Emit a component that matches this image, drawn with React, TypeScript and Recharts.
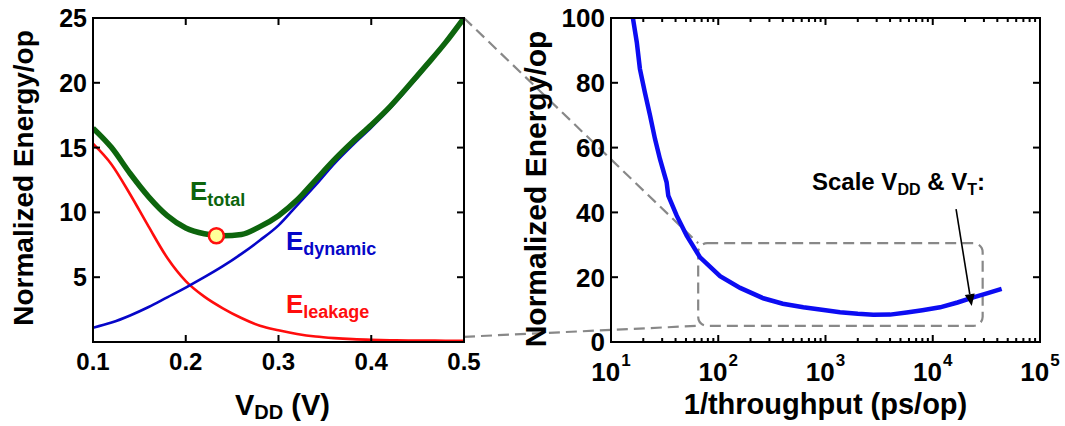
import {
  ComposedChart,
  Line,
  XAxis,
  YAxis,
  ReferenceDot,
  ReferenceArea,
} from 'recharts'

// VDD sweep (V) and normalized energy per operation of each component
const vdd = [0.1, 0.12, 0.14, 0.16, 0.18, 0.2, 0.22, 0.24, 0.26, 0.28, 0.3, 0.32, 0.34, 0.36, 0.38, 0.4, 0.42, 0.44, 0.46, 0.48, 0.5]
const eLeakage = [15.3, 13.7, 11.4, 8.9, 6.5, 4.7, 3.5, 2.6, 1.85, 1.25, 0.9, 0.62, 0.42, 0.3, 0.22, 0.17, 0.14, 0.12, 0.11, 0.1, 0.1]
const eDynamic = [1.1, 1.5, 2.05, 2.7, 3.45, 4.2, 5.0, 5.85, 6.8, 7.85, 9.0, 10.55, 12.1, 13.75, 15.2, 16.55, 18.0, 19.6, 21.3, 23.1, 25.0]
const eTotal = [16.5, 15.0, 13.0, 11.2, 9.75, 8.8, 8.35, 8.2, 8.3, 8.9, 9.75, 10.95, 12.5, 14.05, 15.45, 16.75, 18.15, 19.75, 21.4, 23.1, 25.0]

// minimum energy point
const optVdd = 0.233
const optEnergy = 8.2

const vddTicks = [0.1, 0.2, 0.3, 0.4, 0.5]
const leftEnergyTicks = [5, 10, 15, 20, 25]

// delay per op (ps/op) vs normalized energy/op when VDD and VT are scaled together
const delayPs = [16, 17.4, 18.6, 20.7, 23.1, 25.7, 28.6, 33, 34.2, 41, 50.8, 67.7, 104, 160, 263, 400, 621, 1000, 1366, 2000, 2793, 4000, 5717, 8000, 11700, 17000, 23900, 32000, 43900]
const energyOp = [100, 92.5, 84.3, 77, 70, 62.7, 56.5, 49.3, 45.2, 39, 32.8, 26.1, 20.3, 16.7, 13.5, 11.8, 10.7, 9.8, 9.2, 8.7, 8.4, 8.45, 9.1, 9.8, 10.7, 12.2, 13.8, 15.0, 16.4]

const delayDecades = [10, 100, 1000, 10000, 100000]
const rightEnergyTicks = [0, 20, 40, 60, 80, 100]

// region of the right plot that the left plot covers
const zoomDelay = [65, 29200]
const zoomEnergy = [5, 30.5]

// arrow to the "Scale VDD & VT" annotation
const arrowFrom = { d: 16500, e: 41 }
const arrowTo = { d: 23070, e: 11.1 }

const FONT = '"Liberation Sans", Arial, Helvetica, sans-serif'
const TICK_LEN = 7
const MINOR_LEN = 4
const EDGE = 2
const W = 1065
const H = 426
const PLOT_TOP = 18
const X_AXIS_H = 84
const PLOT_BOTTOM = H - X_AXIS_H

const L_CHART = { left: 0, width: 510, axisW: 93, padRight: 46 }
const R_CHART = { left: 510, width: 555, axisW: 101, padRight: 25 }

const lX0 = L_CHART.left + L_CHART.axisW
const lX1 = L_CHART.left + L_CHART.width - L_CHART.padRight
const rX0 = R_CHART.left + R_CHART.axisW
const rX1 = R_CHART.left + R_CHART.width - R_CHART.padRight

const lx = (v: number) => lX0 + ((v - 0.1) / 0.4) * (lX1 - lX0)
const ly = (e: number) => PLOT_BOTTOM - (e / 25) * (PLOT_BOTTOM - PLOT_TOP)
const rx = (d: number) => rX0 + ((Math.log10(d) - 1) / 4) * (rX1 - rX0)
const ry = (e: number) => PLOT_BOTTOM - (e / 100) * (PLOT_BOTTOM - PLOT_TOP)

const leftRows = vdd.map((v, i) => ({
  v,
  leak: eLeakage[i],
  dyn: eDynamic[i],
  tot: eTotal[i],
}))
const rightRows = delayPs.map((d, i) => ({ d, e: energyOp[i] }))

// decade ticks plus 2..9 minor ticks inside each decade
const logTicks: number[] = []
delayDecades.forEach((dec, i) => {
  if (i === delayDecades.length - 1) {
    logTicks.push(dec)
    return
  }
  for (let k = 1; k <= 9; k++) logTicks.push(dec * k)
})

const isDecade = (v: number) => Math.abs(Math.log10(v) - Math.round(Math.log10(v))) < 1e-9

type TickProps = { x?: number; y?: number; payload?: { value: number } }

function VddLabel({ x = 0, y = 0, payload }: TickProps) {
  return (
    <text x={x} y={y + 28} textAnchor="middle" fontSize={24} fontWeight="bold" fontFamily={FONT} fill="#000">
      {payload ? payload.value.toFixed(1) : ''}
    </text>
  )
}

function DecadeLabel({ x = 0, y = 0, payload }: TickProps) {
  const v = payload ? payload.value : 1
  if (!isDecade(v)) return <g />
  return (
    <text x={x} y={y + 39} textAnchor="middle" fontSize={26} fontWeight="bold" fontFamily={FONT} fill="#000">
      10<tspan fontSize={17} dx={1} dy={-15}>{Math.round(Math.log10(v))}</tspan>
    </text>
  )
}

function EnergyLabel({ x = 0, y = 0, payload, size }: TickProps & { size: number }) {
  return (
    <text x={x - 6} y={y + size * 0.36} textAnchor="end" fontSize={size} fontWeight="bold" fontFamily={FONT} fill="#000">
      {payload ? payload.value : ''}
    </text>
  )
}

function RoundedBox(props: { x?: number; y?: number; width?: number; height?: number }) {
  const { x = 0, y = 0, width = 0, height = 0 } = props
  return (
    <rect x={x} y={y} width={width} height={height} rx={9} ry={9} fill="none" stroke="#888" strokeWidth={2.2} strokeDasharray="11 6" />
  )
}

function VddChart() {
  return (
    <ComposedChart
      width={L_CHART.width}
      height={H}
      data={leftRows}
      margin={{ top: PLOT_TOP, right: L_CHART.padRight, bottom: 0, left: 0 }}
    >
      <XAxis xAxisId="b" dataKey="v" type="number" domain={[0.1, 0.5]} ticks={vddTicks} interval={0} allowDataOverflow
        height={X_AXIS_H} tickSize={0} tickMargin={0} tickLine={false} axisLine={false}
        tick={(p: TickProps) => <VddLabel {...p} />} />
      <YAxis yAxisId="l" type="number" domain={[0, 25]} ticks={leftEnergyTicks} interval={0} allowDataOverflow
        width={L_CHART.axisW} tickSize={0} tickMargin={0} tickLine={false} axisLine={false}
        tick={(p: TickProps) => <EnergyLabel {...p} size={25} />} />
      <Line xAxisId="b" yAxisId="l" type="monotone" dataKey="leak" stroke="#ff0d0d" strokeWidth={2.6} dot={false} isAnimationActive={false} />
      <Line xAxisId="b" yAxisId="l" type="monotone" dataKey="dyn" stroke="#0606c8" strokeWidth={2.6} dot={false} isAnimationActive={false} />
      <Line xAxisId="b" yAxisId="l" type="monotone" dataKey="tot" stroke="#0d650d" strokeWidth={5.5} dot={false} isAnimationActive={false} />
      <ReferenceDot xAxisId="b" yAxisId="l" x={optVdd} y={optEnergy} r={7.5} fill="#ffff99" stroke="#ff1010" strokeWidth={2.5} />
    </ComposedChart>
  )
}

function DelayChart() {
  return (
    <ComposedChart
      width={R_CHART.width}
      height={H}
      data={rightRows}
      margin={{ top: PLOT_TOP, right: R_CHART.padRight, bottom: 0, left: 0 }}
    >
      <XAxis xAxisId="b" dataKey="d" type="number" scale="log" domain={[10, 100000]} ticks={logTicks} interval={0} allowDataOverflow
        height={X_AXIS_H} tickSize={0} tickMargin={0} tickLine={false} axisLine={false}
        tick={(p: TickProps) => <DecadeLabel {...p} />} />
      <YAxis yAxisId="l" type="number" domain={[0, 100]} ticks={rightEnergyTicks} interval={0} allowDataOverflow
        width={R_CHART.axisW} tickSize={0} tickMargin={0} tickLine={false} axisLine={false}
        tick={(p: TickProps) => <EnergyLabel {...p} size={26} />} />
      <ReferenceArea xAxisId="b" yAxisId="l" x1={zoomDelay[0]} x2={zoomDelay[1]} y1={zoomEnergy[0]} y2={zoomEnergy[1]}
        shape={(p: any) => <RoundedBox {...p} />} />
      <Line xAxisId="b" yAxisId="l" type="linear" dataKey="e" stroke="#0c0cf2" strokeWidth={4.5} dot={false} isAnimationActive={false} />
    </ComposedChart>
  )
}

// plot border as four filled strips plus inward tick bars on every side
function PlotFrame({ x0, x1, xTicks, yTicks }: { x0: number; x1: number; xTicks: { at: number; len: number }[]; yTicks: number[] }) {
  const h = EDGE / 2
  const w = x1 - x0
  const ht = PLOT_BOTTOM - PLOT_TOP
  return (
    <g fill="#000">
      <rect x={x0 - h} y={PLOT_TOP - h} width={w + EDGE} height={EDGE} />
      <rect x={x0 - h} y={PLOT_BOTTOM - h} width={w + EDGE} height={EDGE} />
      <rect x={x0 - h} y={PLOT_TOP - h} width={EDGE} height={ht + EDGE} />
      <rect x={x1 - h} y={PLOT_TOP - h} width={EDGE} height={ht + EDGE} />
      {xTicks.map(({ at, len }) => (
        <g key={`x${at}`}>
          <rect x={at - h} y={PLOT_BOTTOM - len} width={EDGE} height={len} />
          <rect x={at - h} y={PLOT_TOP} width={EDGE} height={len} />
        </g>
      ))}
      {yTicks.map((at) => (
        <g key={`y${at}`}>
          <rect x={x0} y={at - h} width={TICK_LEN} height={EDGE} />
          <rect x={x1 - TICK_LEN} y={at - h} width={TICK_LEN} height={EDGE} />
        </g>
      ))}
    </g>
  )
}

// titles and zoom connectors, drawn beneath the series
function Underlay() {
  const dash = { stroke: '#888', strokeWidth: 2.2, strokeDasharray: '11 6', fill: 'none' }
  return (
    <svg width={W} height={H} style={{ position: 'absolute', left: 0, top: 0 }} fontFamily={FONT} fontWeight="bold">
      <line x1={lx(0.5)} y1={ly(25)} x2={rx(zoomDelay[0])} y2={ry(zoomEnergy[1])} {...dash} />
      <line x1={lx(0.5)} y1={ly(0.4)} x2={rx(zoomDelay[0])} y2={ry(zoomEnergy[0])} {...dash} />

      <text transform={`translate(33, ${(PLOT_TOP + PLOT_BOTTOM) / 2 - 2}) rotate(-90)`} textAnchor="middle" fontSize={28}>
        Normalized Energy/op
      </text>
      <text x={(lX0 + lX1) / 2 + 4} y={415} textAnchor="middle" fontSize={29}>
        V<tspan fontSize={20} dy={4}>DD</tspan><tspan dy={-4}> (V)</tspan>
      </text>
      <text transform={`translate(546, ${(PLOT_TOP + PLOT_BOTTOM) / 2 + 9}) rotate(-90)`} textAnchor="middle" fontSize={30}>
        Normalized Energy/op
      </text>
      <text x={(rX0 + rX1) / 2} y={414} textAnchor="middle" fontSize={29}>
        1/throughput (ps/op)
      </text>
    </svg>
  )
}

// plot frames, curve labels and the scaling arrow, drawn above the series
function Overlay() {
  const ax0 = rx(arrowFrom.d)
  const ay0 = ry(arrowFrom.e)
  const ax1 = rx(arrowTo.d)
  const ay1 = ry(arrowTo.e)
  const len = Math.hypot(ax1 - ax0, ay1 - ay0)
  const ux = (ax1 - ax0) / len
  const uy = (ay1 - ay0) / len
  const headL = 12
  const headW = 5
  const bx = ax1 - ux * headL
  const by = ay1 - uy * headL
  const head = `${ax1},${ay1} ${bx - uy * headW},${by + ux * headW} ${bx + uy * headW},${by - ux * headW}`

  return (
    <svg width={W} height={H} style={{ position: 'absolute', left: 0, top: 0, pointerEvents: 'none' }}
      fontFamily={FONT} fontWeight="bold">
      <PlotFrame x0={lX0} x1={lX1} xTicks={vddTicks.map((v) => ({ at: lx(v), len: TICK_LEN }))} yTicks={leftEnergyTicks.map(ly)} />
      <PlotFrame
        x0={rX0}
        x1={rX1}
        xTicks={logTicks.map((d) => ({ at: rx(d), len: isDecade(d) ? TICK_LEN : MINOR_LEN }))}
        yTicks={rightEnergyTicks.map(ry)}
      />

      <text x={lx(0.2046)} y={ly(10.95)} fontSize={26} fill="#0d650d">
        E<tspan fontSize={18} dy={6}>total</tspan>
      </text>
      <text x={lx(0.308)} y={ly(7.1)} fontSize={26} fill="#0606c8">
        E<tspan fontSize={18} dy={5}>dynamic</tspan>
      </text>
      <text x={lx(0.308)} y={ly(2.25)} fontSize={26} fill="#ff0d0d">
        E<tspan fontSize={18} dy={5}>leakage</tspan>
      </text>

      <text x={rx(748)} y={ry(46.9)} fontSize={24} fill="#000">
        Scale V<tspan fontSize={16} dy={5}>DD</tspan><tspan dy={-5}> &amp; V</tspan>
        <tspan fontSize={16} dy={5}>T</tspan><tspan dy={-5}>:</tspan>
      </text>
      <line x1={ax0} y1={ay0} x2={bx} y2={by} stroke="#000" strokeWidth={1.6} />
      <polygon points={head} fill="#000" />
    </svg>
  )
}

export default function App() {
  return (
    <div style={{ position: 'absolute', left: 0, top: 0, width: W, height: H, background: '#fff' }}>
      <Underlay />
      <div style={{ position: 'absolute', left: L_CHART.left, top: 0 }}>
        <VddChart />
      </div>
      <div style={{ position: 'absolute', left: R_CHART.left, top: 0 }}>
        <DelayChart />
      </div>
      <Overlay />
    </div>
  )
}
